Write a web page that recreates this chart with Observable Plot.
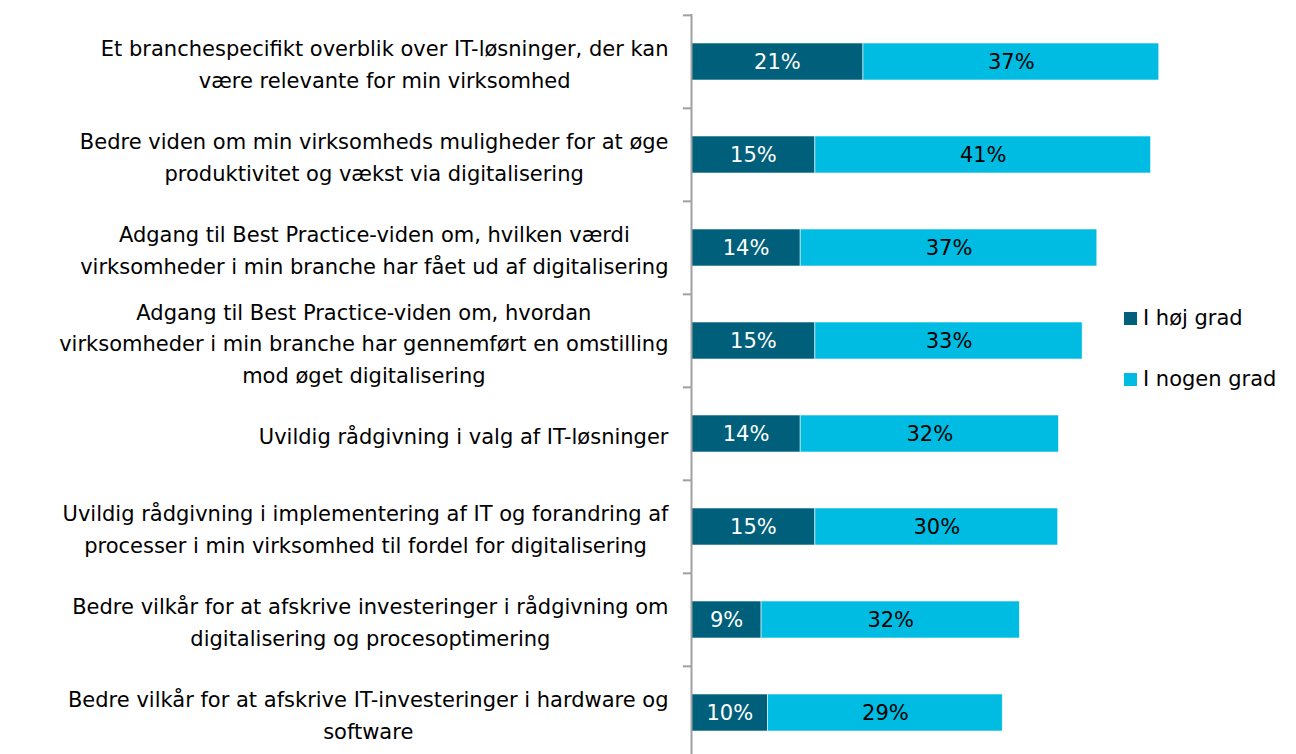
<!DOCTYPE html>
<html><head><meta charset="utf-8">
<script src="https://cdn.jsdelivr.net/npm/d3@7"></script>
<script src="https://cdn.jsdelivr.net/npm/@observablehq/plot@0.6"></script>
<style>
body{margin:0;background:#fff;}
#wrap{position:relative;width:1296px;height:754px;overflow:hidden;background:#fff;}
#legend{position:absolute;left:1124px;top:306px;font-family:"DejaVu Sans",sans-serif;color:#000;}
#legend .item{display:flex;align-items:center;height:24px;margin-bottom:37px;white-space:nowrap;}
#legend .sw{width:13px;height:13px;margin-right:6px;}
</style></head><body><div id="wrap"><div id="legend"></div></div>
<script>
const categories = [
  "Et branchespecifikt overblik over IT-løsninger, der kan\nvære relevante for min virksomhed",
  "Bedre viden om min virksomheds muligheder for at øge\nproduktivitet og vækst via digitalisering",
  "Adgang til Best Practice-viden om, hvilken værdi\nvirksomheder i min branche har fået ud af digitalisering",
  "Adgang til Best Practice-viden om, hvordan\nvirksomheder i min branche har gennemført en omstilling\nmod øget digitalisering",
  "Uvildig rådgivning i valg af IT-løsninger",
  "Uvildig rådgivning i implementering af IT og forandring af\nprocesser i min virksomhed til fordel for digitalisering",
  "Bedre vilkår for at afskrive investeringer i rådgivning om\ndigitalisering og procesoptimering",
  "Bedre vilkår for at afskrive IT-investeringer i hardware og\nsoftware"
];
const seriesNames = ["I høj grad", "I nogen grad"];
const highValues = [21.1, 15.2, 13.4, 15.2, 13.4, 15.2, 8.6, 9.4];
const someValues = [36.3, 41.2, 36.4, 32.8, 31.7, 29.8, 31.7, 28.8];
const highLabels = ["21%", "15%", "14%", "15%", "14%", "15%", "9%", "10%"];
const someLabels = ["37%", "41%", "37%", "33%", "32%", "30%", "32%", "29%"];
const seriesColors = ["#005f7a", "#00bce2"];
const labelColors = ["#ffffff", "#000000"];

const data = [];
categories.forEach((c, i) => data.push({cat: c, series: seriesNames[0], value: highValues[i], label: highLabels[i], tc: labelColors[0]}));
categories.forEach((c, i) => data.push({cat: c, series: seriesNames[1], value: someValues[i], label: someLabels[i], tc: labelColors[1]}));

const FONT = "DejaVu Sans";
const ctx = document.createElement("canvas").getContext("2d");
function textWidth(t, size) { ctx.font = `${size}px "${FONT}"`; return ctx.measureText(t).width; }
const longest = "virksomheder i min branche har gennemført en omstilling";
const fs = Math.min(21, 20 * 655 / textWidth(longest, 20));

const W = 1296, H = 754;
const axisX = 691, labelGap = 23, plotTop = 14, step = 93.3;
const yRange = [plotTop, plotTop + categories.length * step];

const labelMarks = categories.map(c => {
  const lines = c.split("\n");
  const bw = Math.max(...lines.map(l => textWidth(l, fs)));
  return Plot.text([c], {
    y: d => d, text: d => d, frameAnchor: "left", textAnchor: "middle",
    dx: -labelGap - bw / 2, lineHeight: 1.5, fontSize: fs, fill: "#000"
  });
});

const chart = Plot.plot({
  width: W, height: H,
  marginLeft: axisX, marginRight: 2, marginTop: plotTop, marginBottom: 0,
  style: {fontFamily: `"${FONT}", sans-serif`, fontSize: fs + "px", background: "#fff", overflow: "visible"},
  x: {domain: [0, 74], axis: null},
  y: {domain: categories, range: yRange, paddingInner: 0.6, paddingOuter: 0.3, axis: null},
  color: {domain: seriesNames, range: seriesColors},
  marks: [
    Plot.barX(data, Plot.stackX({x: "value", y: "cat", fill: "series", stroke: "#ffffff", strokeWidth: 0.8, strokeOpacity: 0.7})),
    Plot.text(data, Plot.stackX({x: "value", y: "cat", text: "label", fill: "tc", fontSize: fs})),
    Plot.ruleX([0], {stroke: "#a0a0a0", strokeWidth: 2}),
    Plot.ruleY(categories, {y: d => d, x1: -1, x2: 0, dy: -step / 2, stroke: "#a0a0a0", strokeWidth: 2}),
    ...labelMarks
  ]
});
document.getElementById("wrap").prepend(chart);

const legend = document.getElementById("legend");
legend.style.fontSize = fs + "px";
seriesNames.forEach((s, i) => {
  const item = document.createElement("div");
  item.className = "item";
  const sw = document.createElement("span");
  sw.className = "sw";
  sw.style.background = seriesColors[i];
  const t = document.createElement("span");
  t.textContent = s;
  item.append(sw, t);
  legend.append(item);
});
</script>
</body></html>
